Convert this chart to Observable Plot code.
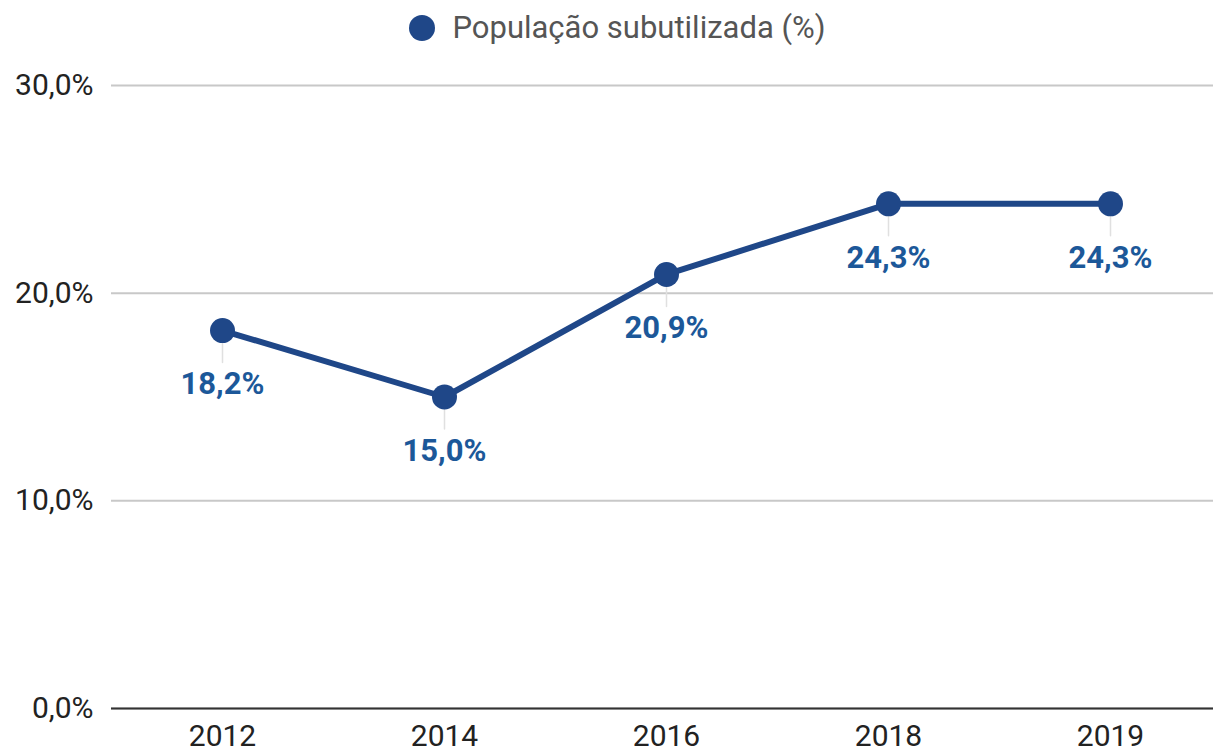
<!DOCTYPE html>
<html>
<head>
<meta charset="utf-8">
<script src="https://cdn.jsdelivr.net/npm/d3@7"></script>
<script src="https://cdn.jsdelivr.net/npm/@observablehq/plot@0.6"></script>
<style>
  html, body { margin: 0; padding: 0; background: #fff; }
  body { font-family: Roboto, "Noto Sans", sans-serif; width: 1213px; overflow: hidden; }
  #legend { height: 55px; display: flex; align-items: center; justify-content: center; font-size: 31px; color: #555; padding-left: 22px; }
  #legend .sw { width: 26px; height: 26px; border-radius: 50%; background: #1f4788; margin-right: 17px; flex: none; }
</style>
</head>
<body>
<div id="legend"><span class="sw"></span><span>População subutilizada (%)</span></div>
<div id="chart"></div>
<script>
const years = ["2012", "2014", "2016", "2018", "2019"];
const values = [18.2, 15.0, 20.9, 24.3, 24.3];
const yTicks = [0, 10, 20, 30];
const seriesName = "População subutilizada (%)";

const data = years.map((year, i) => ({ year, value: values[i] }));
const fmt = d => d.toFixed(1).replace(".", ",") + "%";
const lineColor = "#1f4788";
const labelColor = "#1c5899";

const leader = {
  draw(context, l) { context.moveTo(0, 0); context.lineTo(0, l); }
};

const chart = Plot.plot({
  width: 1213,
  height: 697,
  marginLeft: 111,
  marginRight: -8,
  marginTop: 30,
  marginBottom: 44,
  style: { fontFamily: "Roboto, 'Noto Sans', sans-serif", fontSize: "30px", color: "#222", background: "#fff" },
  x: { type: "point", domain: years, padding: 0.5, label: null },
  y: { domain: [0, 30], label: null },
  marks: [
    Plot.gridY(yTicks, { stroke: "#c8c8c8", strokeOpacity: 1, strokeWidth: 2 }),
    Plot.axisY(yTicks, { tickSize: 0, tickPadding: 18, tickFormat: fmt, fontSize: 30, fill: "#222", label: null }),
    Plot.axisX({ tickSize: 0, tickPadding: 16, fontSize: 30, fill: "#222", label: null }),
    Plot.ruleY([0], { stroke: "#333", strokeWidth: 2 }),
    Plot.vector(data, { x: "year", y: "value", length: 32, shape: leader, anchor: "start", rotate: 0, stroke: "#e0e0e0", strokeWidth: 1.5 }),
    Plot.line(data, { x: "year", y: "value", stroke: lineColor, strokeWidth: 6 }),
    Plot.dot(data, { x: "year", y: "value", r: 12.5, fill: lineColor }),
    Plot.text(data, { x: "year", y: "value", text: d => fmt(d.value), dy: 54, fill: labelColor, fontWeight: "bold", fontSize: 31 })
  ]
});
document.getElementById("chart").appendChild(chart);
</script>
</body>
</html>
